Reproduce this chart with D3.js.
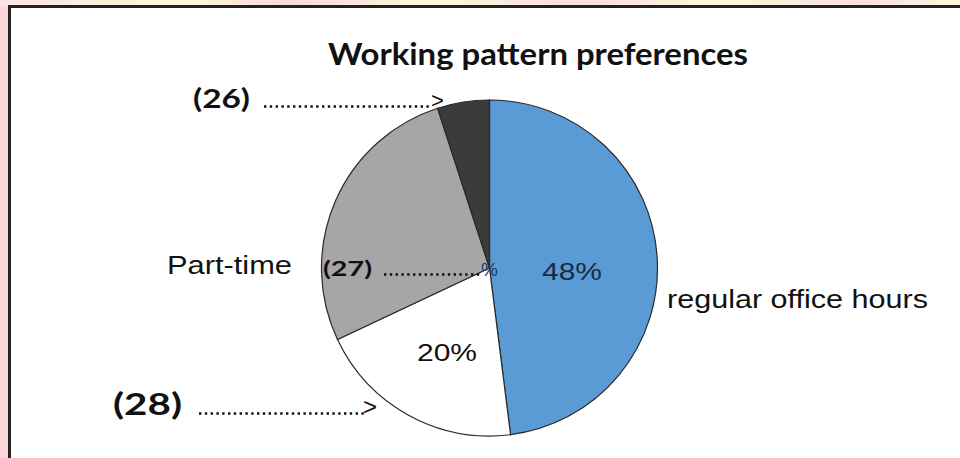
<!DOCTYPE html>
<html><head><meta charset="utf-8">
<script src="https://cdn.jsdelivr.net/npm/d3@7"></script>
<style>html,body{margin:0;padding:0;background:#fff;}svg{display:block;}</style>
</head><body>
<svg id="c" width="960" height="458"></svg>
<script>
const categories = ["regular office hours", "(28)", "Part-time", "(26)"];
const values = [48, 20, 27, 5];
const colors = ["#5b9bd5", "#ffffff", "#a6a6a6", "#3b3b3b"];
const pctLabels = ["48%", "20%"];
const title = "Working pattern preferences";

const svg = d3.select("#c");
const W = 960, H = 458;

const defs = svg.append("defs");
const pat = defs.append("linearGradient").attr("id","bg").attr("x1","0").attr("x2","1").attr("y1","0").attr("y2","0");
[["0%","#fbe3e3"],["20%","#fdf7d6"],["30%","#fbd9dc"],["45%","#fdf8dc"],["60%","#fbdde0"],["75%","#fdf7d8"],["90%","#fbe0e2"],["100%","#fdf8dc"]]
  .forEach(([o,c])=>pat.append("stop").attr("offset",o).attr("stop-color",c));
svg.append("rect").attr("width",W).attr("height",H).attr("fill","url(#bg)");
svg.append("rect").attr("x",0).attr("y",6).attr("width",9).attr("height",H).attr("fill","#fbd6db");

svg.append("rect").attr("x",9.5).attr("y",6.5).attr("width",W+10).attr("height",H+10)
  .attr("fill","#fff").attr("stroke","#222").attr("stroke-width",3);

const reg = "'Liberation Sans', 'Noto Sans', sans-serif";
const bold = "'Liberation Sans Narrow', Lato, sans-serif";

svg.append("text").attr("x",538).attr("y",65).attr("text-anchor","middle")
  .attr("font-family",bold).attr("font-weight","bold").attr("font-size",30)
  .attr("textLength",420).attr("lengthAdjust","spacingAndGlyphs")
  .attr("fill","#111").text(title);

const cx = 489.5, cy = 268, R = 168;
const pie = d3.pie().sort(null).value(d=>d)(values);
const arc = d3.arc().innerRadius(0).outerRadius(R);
const g = svg.append("g").attr("transform",`translate(${cx},${cy})`);
g.selectAll("path").data(pie).join("path")
  .attr("d",arc).attr("fill",(d,i)=>colors[i])
  .attr("stroke","#2a2a2a").attr("stroke-width",1.2);

const pctPos = [[572, 280], [447, 361]];
pctLabels.forEach((t,i)=>{
  svg.append("text").attr("x",pctPos[i][0]).attr("y",pctPos[i][1]).attr("text-anchor","middle")
    .attr("font-family",reg).attr("font-size",24)
    .attr("textLength",60).attr("lengthAdjust","spacingAndGlyphs")
    .attr("fill", i===0 ? "#1a2a44" : "#111").text(t);
});

svg.append("text").attr("x",667).attr("y",308).attr("font-family",reg).attr("font-size",25)
  .attr("textLength",261).attr("lengthAdjust","spacingAndGlyphs").attr("fill","#111").text(categories[0]);
svg.append("text").attr("x",167).attr("y",274).attr("font-family",reg).attr("font-size",25)
  .attr("textLength",125).attr("lengthAdjust","spacingAndGlyphs").attr("fill","#111").text(categories[2]);

function gap(label, x, y, size, w, dotsX0, dotsX1, endText, endX, endSize, endColor){
  svg.append("text").attr("x",x).attr("y",y).attr("font-family",bold).attr("font-weight","bold")
    .attr("font-size",size).attr("textLength",w).attr("lengthAdjust","spacingAndGlyphs").attr("fill","#111").text(label);
  svg.append("line").attr("x1",dotsX0).attr("x2",dotsX1).attr("y1",y-1.5).attr("y2",y-1.5)
    .attr("stroke","#111").attr("stroke-width",2.4).attr("stroke-dasharray","2.4,3.4");
  svg.append("text").attr("x",endX).attr("y",y).attr("font-family",reg).attr("font-size",endSize)
    .attr("fill",endColor).text(endText);
}
gap(categories[3], 193, 108, 27, 57, 264, 432, ">", 431, 22, "#111");
gap("(27)", 323, 276, 21, 49, 384, 482, "%", 481, 19, "#1f3a66");
gap(categories[1], 113, 415, 30, 69, 199, 364, ">", 363, 24, "#111");
</script>
</body></html>
